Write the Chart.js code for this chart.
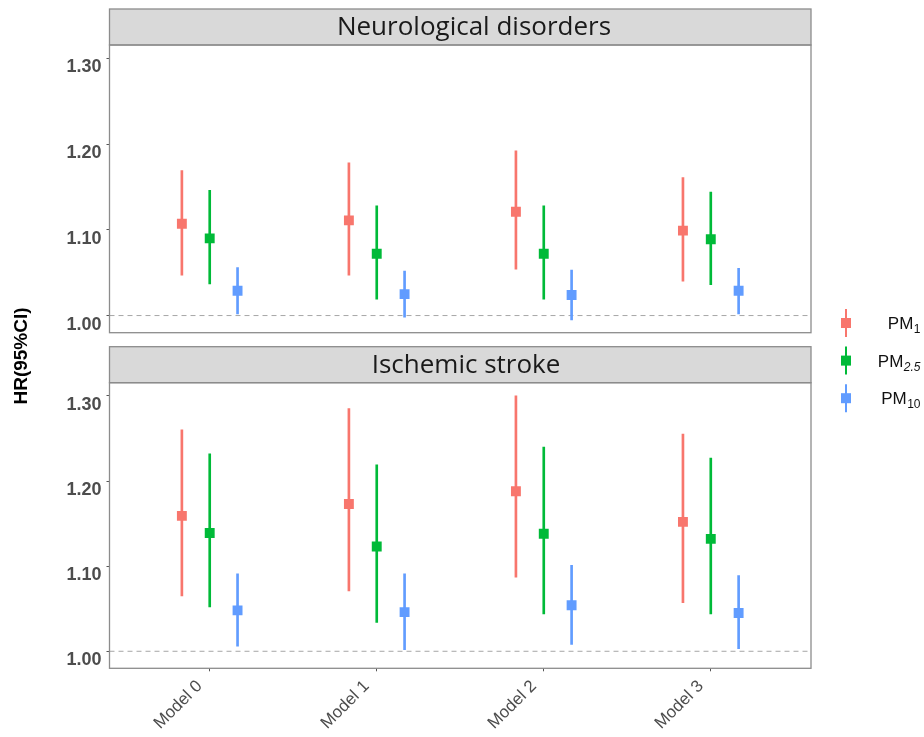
<!DOCTYPE html>
<html>
<head>
<meta charset="utf-8">
<script src="https://cdn.jsdelivr.net/npm/chart.js@4.4.1/dist/chart.umd.min.js"></script>
<style>
  html, body { margin: 0; padding: 0; background: #ffffff; }
  #wrap { position: relative; width: 924px; height: 737px; }
  canvas { position: absolute; left: 0; top: 0; }
</style>
</head>
<body>
<div id="wrap">
  <canvas id="top" width="924" height="737"></canvas>
  <canvas id="bot" width="924" height="737"></canvas>
</div>
<script>
// ---------------- data ----------------
const MODELS = ['Model 0', 'Model 1', 'Model 2', 'Model 3'];
const SERIES = ['PM1', 'PM2.5', 'PM10'];
const SERIES_MAIN = 'PM';
const SERIES_SUB = ['1', '2.5', '10'];
const PANELS = ['Neurological disorders', 'Ischemic stroke'];
const Y_TICKS = [1.00, 1.10, 1.20, 1.30];
const REF_LINE = 1.00;
const Y_TITLE = 'HR(95%CI)';

// Neurological disorders
const NEURO_PM1_EST  = [1.107, 1.111, 1.121, 1.099];
const NEURO_PM1_LO   = [1.047, 1.047, 1.054, 1.040];
const NEURO_PM1_HI   = [1.169, 1.178, 1.192, 1.161];
const NEURO_PM25_EST = [1.090, 1.072, 1.072, 1.089];
const NEURO_PM25_LO  = [1.037, 1.019, 1.019, 1.036];
const NEURO_PM25_HI  = [1.146, 1.128, 1.128, 1.144];
const NEURO_PM10_EST = [1.029, 1.025, 1.024, 1.029];
const NEURO_PM10_LO  = [1.002, 0.998, 0.995, 1.002];
const NEURO_PM10_HI  = [1.056, 1.052, 1.053, 1.055];

// Ischemic stroke
const STROKE_PM1_EST  = [1.159, 1.173, 1.188, 1.152];
const STROKE_PM1_LO   = [1.065, 1.071, 1.087, 1.057];
const STROKE_PM1_HI   = [1.260, 1.285, 1.300, 1.255];
const STROKE_PM25_EST = [1.139, 1.123, 1.138, 1.132];
const STROKE_PM25_LO  = [1.052, 1.034, 1.044, 1.044];
const STROKE_PM25_HI  = [1.232, 1.219, 1.240, 1.227];
const STROKE_PM10_EST = [1.048, 1.046, 1.054, 1.045];
const STROKE_PM10_LO  = [1.006, 1.002, 1.008, 1.003];
const STROKE_PM10_HI  = [1.091, 1.091, 1.101, 1.089];

// ---------------- style ----------------
const COLORS = ['#F8766D', '#00BA38', '#619CFF'];
const DODGE = 1 / 6;          // position_dodge offset (category units)
const X_MIN = -0.6, X_MAX = 3.6;
const Y_MIN = 0.980, Y_MAX = 1.3155;
const BORDER = '#8c8c8c';

const neuro = [
  {est: NEURO_PM1_EST, lo: NEURO_PM1_LO, hi: NEURO_PM1_HI},
  {est: NEURO_PM25_EST, lo: NEURO_PM25_LO, hi: NEURO_PM25_HI},
  {est: NEURO_PM10_EST, lo: NEURO_PM10_LO, hi: NEURO_PM10_HI},
];
const stroke = [
  {est: STROKE_PM1_EST, lo: STROKE_PM1_LO, hi: STROKE_PM1_HI},
  {est: STROKE_PM25_EST, lo: STROKE_PM25_LO, hi: STROKE_PM25_HI},
  {est: STROKE_PM10_EST, lo: STROKE_PM10_LO, hi: STROKE_PM10_HI},
];

function buildDatasets(groups) {
  const ds = [];
  ds.push({
    type: 'line', label: 'ref', order: 10,
    data: [{x: X_MIN, y: REF_LINE}, {x: X_MAX, y: REF_LINE}],
    borderColor: '#a6a6a6', borderWidth: 1, borderDash: [5, 4],
    pointRadius: 0, fill: false
  });
  groups.forEach((g, s) => {
    ds.push({
      type: 'bar', label: SERIES[s] + ' CI', order: 5,
      data: MODELS.map((m, i) => ({x: i + (s - 1) * DODGE, y: [g.lo[i], g.hi[i]]})),
      backgroundColor: COLORS[s], borderWidth: 0,
      grouped: false, maxBarThickness: 2, barPercentage: 1, categoryPercentage: 1
    });
  });
  groups.forEach((g, s) => {
    ds.push({
      type: 'line', label: SERIES[s], order: 1, showLine: false,
      data: MODELS.map((m, i) => ({x: i + (s - 1) * DODGE, y: g.est[i]})),
      pointStyle: 'rect', pointRadius: 7, pointBorderWidth: 0,
      backgroundColor: COLORS[s], borderColor: COLORS[s]
    });
  });
  return ds;
}

const panelPlugin = {
  id: 'panelDecor',
  beforeDatasetsDraw(chart, args, opts) {
    const a = chart.chartArea, ctx = chart.ctx;
    ctx.save();
    ctx.fillStyle = '#d9d9d9';
    ctx.fillRect(a.left, a.top - opts.stripH, a.right - a.left, opts.stripH);
    ctx.strokeStyle = BORDER; ctx.lineWidth = 1.3;
    ctx.strokeRect(a.left, a.top - opts.stripH, a.right - a.left, opts.stripH);
    ctx.fillStyle = '#1a1a1a';
    ctx.font = '26px "Open Sans", "Noto Sans", sans-serif';
    ctx.textAlign = 'center'; ctx.textBaseline = 'middle';
    ctx.fillText(opts.title, opts.titleX, a.top - opts.stripH / 2 + 1);
    ctx.restore();
  },
  afterDraw(chart, args, opts) {
    const a = chart.chartArea, ctx = chart.ctx;
    ctx.save();
    ctx.strokeStyle = BORDER; ctx.lineWidth = 1.3;
    ctx.strokeRect(a.left, a.top, a.right - a.left, a.bottom - a.top);
    if (opts.extras) {
      ctx.fillStyle = '#000';
      ctx.font = 'bold 19px "Liberation Sans", Arial, sans-serif';
      ctx.textAlign = 'center'; ctx.textBaseline = 'middle';
      ctx.translate(22, 356); ctx.rotate(-Math.PI / 2);
      ctx.fillText(Y_TITLE, 0, 0);
      ctx.setTransform(1, 0, 0, 1, 0, 0);
      SERIES.forEach((s, k) => {
        const cy = 323 + k * 37.6, cx = 846;
        ctx.strokeStyle = COLORS[k]; ctx.lineWidth = 2;
        ctx.beginPath(); ctx.moveTo(cx, cy - 14); ctx.lineTo(cx, cy + 14); ctx.stroke();
        ctx.fillStyle = COLORS[k];
        ctx.fillRect(cx - 5, cy - 5, 10, 10);
        ctx.fillStyle = '#111';
        ctx.textBaseline = 'alphabetic'; ctx.textAlign = 'left';
        const mainFont = '17px "Liberation Sans", Arial, sans-serif';
        const subFont = (k === 1 ? 'italic ' : '') + '12px "Liberation Sans", Arial, sans-serif';
        ctx.font = mainFont;
        const w1 = ctx.measureText(SERIES_MAIN).width;
        ctx.font = subFont;
        const w2 = ctx.measureText(SERIES_SUB[k]).width;
        const x0 = 920 - w1 - w2;
        ctx.font = mainFont;
        ctx.fillText(SERIES_MAIN, x0, cy + 6);
        ctx.font = subFont;
        ctx.fillText(SERIES_SUB[k], x0 + w1 + 0.5, cy + 10);
      });
    }
    ctx.restore();
  }
};

function makeChart(id, groups, title, titleX, padTop, padBottom, showX, extras) {
  return new Chart(document.getElementById(id), {
    type: 'bar',
    data: {datasets: buildDatasets(groups)},
    plugins: [panelPlugin],
    options: {
      responsive: false, animation: false, events: [],
      layout: {padding: {left: 0, right: 113, top: padTop, bottom: padBottom}},
      plugins: {
        legend: {display: false}, tooltip: {enabled: false},
        panelDecor: {title: title, titleX: titleX, stripH: 36, extras: extras}
      },
      scales: {
        x: {
          type: 'linear', min: X_MIN, max: X_MAX, display: showX, offset: false,
          afterBuildTicks: sc => { sc.ticks = MODELS.map((m, i) => ({value: i})); },
          afterFit: sc => { if (showX) sc.height = 68.7; },
          grid: {display: true, offset: false, drawOnChartArea: false, drawTicks: true, tickLength: 3, color: '#555'},
          border: {display: false},
          ticks: {
            callback: v => MODELS[v], color: '#4d4d4d', minRotation: 45, maxRotation: 45,
            padding: 5, labelOffset: -10,
            font: {family: '"Liberation Sans", Arial, sans-serif', size: 17}
          }
        },
        y: {
          type: 'linear', min: Y_MIN, max: Y_MAX,
          afterBuildTicks: sc => { sc.ticks = Y_TICKS.map(v => ({value: v})); },
          afterFit: sc => { sc.width = 109.5; },
          grid: {display: true, offset: false, drawOnChartArea: false, drawTicks: true, tickLength: 3, color: '#555'},
          border: {display: false},
          ticks: {
            callback: v => v.toFixed(2), color: '#4d4d4d', padding: 5, labelOffset: 9,
            font: {family: '"Liberation Sans", Arial, sans-serif', size: 18, weight: 'bold'}
          }
        }
      }
    }
  });
}

makeChart('top', neuro, PANELS[0], 474, 45, 737 - 332.7, false, true);
makeChart('bot', stroke, PANELS[1], 466, 382.7, 0, true, false);
</script>
</body>
</html>
